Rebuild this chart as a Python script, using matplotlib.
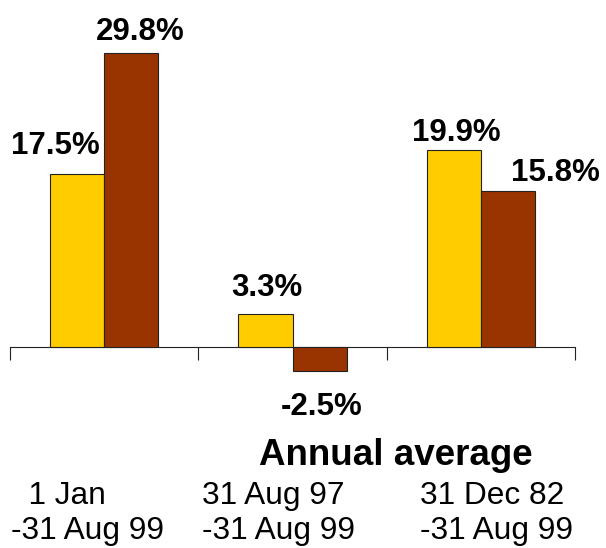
import numpy as np
import matplotlib.pyplot as plt

# values (%)
categories = ["  1 Jan\n-31 Aug 99", "31 Aug 97\n-31 Aug 99", "31 Dec 82\n-31 Aug 99"]
series_a = [17.5, 3.3, 19.9]
series_b = [29.8, -2.5, 15.8]
title = "Annual average"

W, H = 606, 548
fig = plt.figure(figsize=(W / 100, H / 100), dpi=100)
plt.rcParams['font.family'] = ['Liberation Sans', 'DejaVu Sans']

# axes spans full height; zero line sits ~347 px from top
ax = fig.add_axes([10 / W, 0, 565 / W, 1])
ax.set_xlim(-0.5, len(categories) - 0.5)
ax.set_ylim(-20.4, 35.14)

x = np.arange(len(categories))
w = 0.287
bars_a = ax.bar(x - w / 2, series_a, w, color="#FFCC00", edgecolor="#222222", linewidth=0.8, zorder=3)
bars_b = ax.bar(x + w / 2, series_b, w, color="#993300", edgecolor="#222222", linewidth=0.8, zorder=3)

for s in ["top", "left", "right"]:
    ax.spines[s].set_visible(False)
ax.spines["bottom"].set_position(("data", 0))
ax.spines["bottom"].set_color("#222222")
ax.spines["bottom"].set_linewidth(0.8)
ax.set_yticks([])
ax.set_xticks(np.arange(len(categories) + 1) - 0.5)
ax.set_xticklabels([])
ax.tick_params(axis="x", direction="out", length=9.6, width=0.8, color="#222222")

# value labels, offsets in pixels (dx, dy)
offs_a = [(-21.5, 20), (1, 18.5), (3, 9)]
offs_b = [(9, 13), (2, -44), (48, 10)]
for bars, vals, offs in [(bars_a, series_a, offs_a), (bars_b, series_b, offs_b)]:
    for b, v, (dx, dy) in zip(bars, vals, offs):
        ax.annotate(f"{v:.1f}%", xy=(b.get_x() + b.get_width() / 2, v),
                    xytext=(dx, dy), textcoords="offset pixels",
                    ha="center", va="baseline", fontsize=22.5, fontweight="bold")

fig.text(396 / W, 1 - 465 / H, title, ha="center", va="baseline",
         fontsize=26.5, fontweight="bold")

# category labels drawn line by line below the axis
label_x = [11, 202, 419.5]
for lx, lab in zip(label_x, categories):
    for i, line in enumerate(lab.split("\n")):
        fig.text(lx / W, 1 - (504 + 35 * i) / H, line, ha="left", va="baseline", fontsize=22.8)

fig.savefig("out.png", dpi=100)
